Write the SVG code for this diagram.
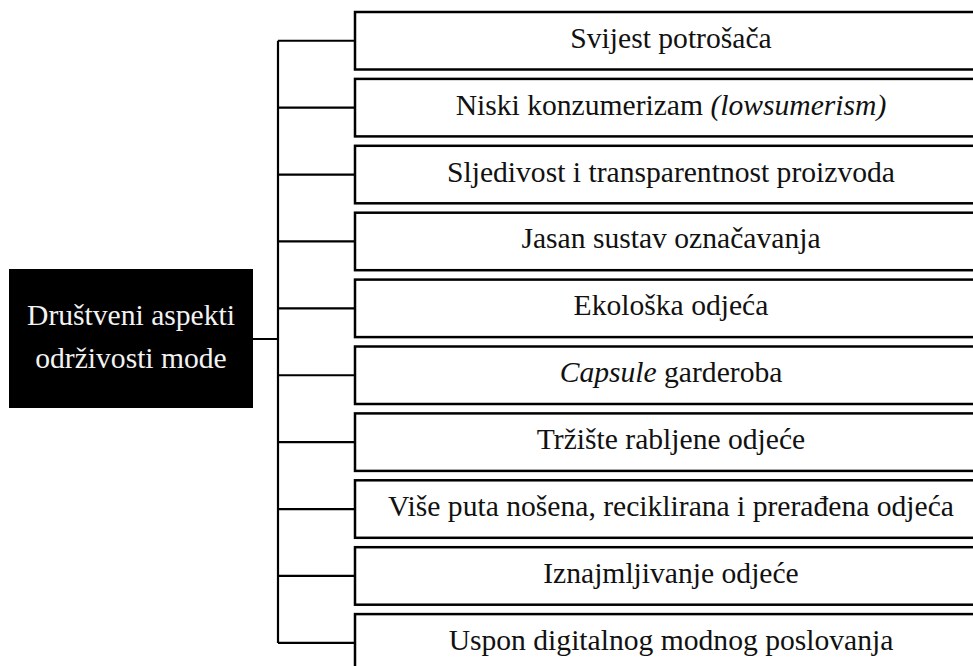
<svg xmlns="http://www.w3.org/2000/svg" width="973" height="666" viewBox="0 0 973 666">
<style>
.box{fill:#fff;stroke:#000;stroke-width:2.5}
.t{font-size:29.6px;fill:#111;text-anchor:middle}
.w{font-size:29.6px;fill:#f2f2f2;text-anchor:middle}
.c{fill:none;stroke:#000;stroke-width:2.2}
</style>
<rect width="973" height="666" fill="#fff"/>
<g id="connectors">
<path class="c" d="M253,339 H278 M278,40.75 V643"/>
<path class="c" d="M278,40.75 H355 M278,107.65 H355 M278,174.55 H355 M278,241.45 H355 M278,308.35 H355 M278,375.25 H355 M278,442.15 H355 M278,509.05 H355 M278,575.95 H355 M278,642.85 H355"/>
</g>
<g font-family="Liberation Serif, Tinos, Times New Roman, DejaVu Serif, serif">
<g id="root">
<rect x="9" y="269" width="244" height="139" fill="#000"/>
<text class="w" x="131" y="325">Društveni aspekti</text>
<text class="w" x="131" y="368">održivosti mode</text>
</g>
<g id="n1"><rect class="box" x="355" y="12" width="640" height="57.5"/><text class="t" x="671" y="47.75">Svijest potrošača</text></g>
<g id="n2"><rect class="box" x="355" y="78.9" width="640" height="57.5"/><text class="t" x="671" y="114.65">Niski konzumerizam <tspan font-style="italic">(lowsumerism)</tspan></text></g>
<g id="n3"><rect class="box" x="355" y="145.8" width="640" height="57.5"/><text class="t" x="671" y="181.55">Sljedivost i transparentnost proizvoda</text></g>
<g id="n4"><rect class="box" x="355" y="212.7" width="640" height="57.5"/><text class="t" x="671" y="248.45">Jasan sustav označavanja</text></g>
<g id="n5"><rect class="box" x="355" y="279.6" width="640" height="57.5"/><text class="t" x="671" y="315.35">Ekološka odjeća</text></g>
<g id="n6"><rect class="box" x="355" y="346.5" width="640" height="57.5"/><text class="t" x="671" y="382.25"><tspan font-style="italic">Capsule</tspan> garderoba</text></g>
<g id="n7"><rect class="box" x="355" y="413.4" width="640" height="57.5"/><text class="t" x="671" y="449.15">Tržište rabljene odjeće</text></g>
<g id="n8"><rect class="box" x="355" y="480.3" width="640" height="57.5"/><text class="t" x="671" y="516.05">Više puta nošena, reciklirana i prerađena odjeća</text></g>
<g id="n9"><rect class="box" x="355" y="547.2" width="640" height="57.5"/><text class="t" x="671" y="582.95">Iznajmljivanje odjeće</text></g>
<g id="n10"><rect class="box" x="355" y="614.1" width="640" height="57.5"/><text class="t" x="671" y="649.85">Uspon digitalnog modnog poslovanja</text></g>
</g>
</svg>
